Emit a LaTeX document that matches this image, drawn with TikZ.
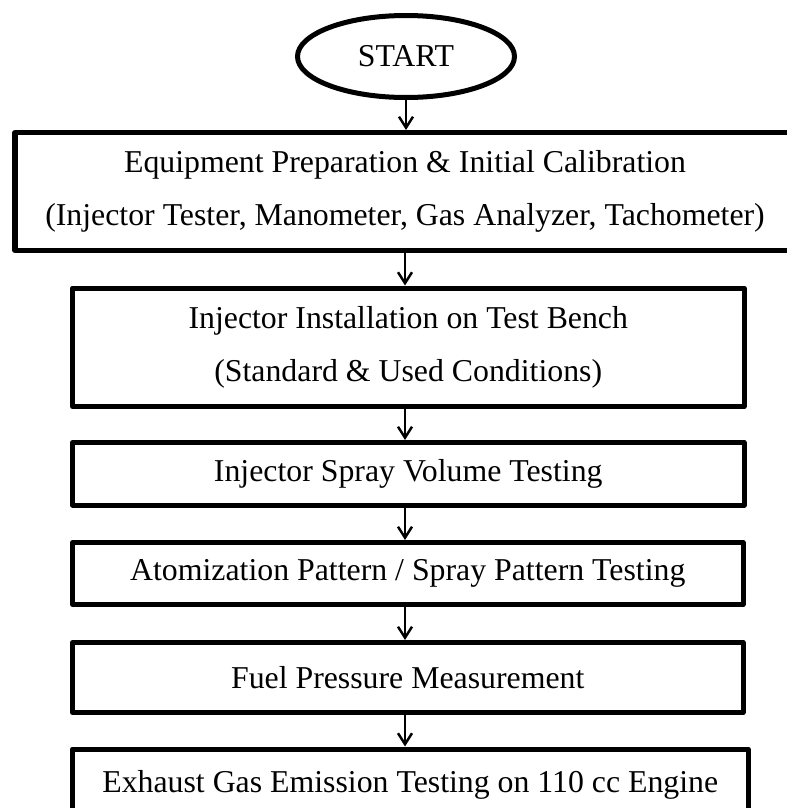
\documentclass[tikz,border=0pt]{standalone}
\usepackage{fontspec}
\setmainfont{Liberation Serif}
\usepackage{tikz}
\usetikzlibrary{shapes.geometric,arrows.meta}
\tikzset{
	procbox/.style={draw,line width=2.85pt,line join=round,rectangle,inner sep=0pt,align=center},
	startnode/.style={draw,line width=2.85pt,ellipse,inner sep=0pt,minimum width=4.34cm,minimum height=1.64cm},
	flow/.style={line width=1.4pt,-{Straight Barb[length=0.22cm,width=0.28cm]}}
}

\begin{document}
\begin{tikzpicture}[font=\fontsize{18.1}{30.5}\selectfont]
	  \useasboundingbox (0,0) rectangle (15.74,-16.16);
	  \node (start) [startnode] at (8.12,-1.13) {START};
	  \node (prep) [procbox,minimum width=15.6cm,minimum height=2.36cm] at (8.10,-3.83) {Equipment Preparation \& Initial Calibration\\(Injector Tester, Manometer, Gas Analyzer, Tachometer)};
	  \node (install) [procbox,minimum width=13.43cm,minimum height=2.37cm] at (8.165,-6.945) {Injector Installation on Test Bench\\(Standard \& Used Conditions)};
	  \node (volume) [procbox,minimum width=13.43cm,minimum height=1.25cm] at (8.165,-9.475) {Injector Spray Volume Testing};
	  \node (pattern) [procbox,minimum width=13.41cm,minimum height=1.24cm] at (8.155,-11.47) {Atomization Pattern / Spray Pattern Testing};
	  \node (pressure) [procbox,minimum width=13.41cm,minimum height=1.4cm] at (8.155,-13.55) {Fuel Pressure Measurement};
	  \node (emission) [procbox,minimum width=13.51cm,minimum height=1.42cm] at (8.205,-15.69) {Exhaust Gas Emission Testing on 110 cc Engine};
	  \draw[flow] (start.south) -- (start.south |- prep.north);
	  \draw[flow] (prep.south) -- (prep.south |- install.north);
	  \draw[flow] (install.south -| prep.south) -- (prep.south |- volume.north);
	  \draw[flow] (volume.south -| prep.south) -- (prep.south |- pattern.north);
	  \draw[flow] (pattern.south -| prep.south) -- (prep.south |- pressure.north);
	  \draw[flow] (pressure.south -| prep.south) -- (prep.south |- emission.north);
	\end{tikzpicture}
\end{document}
